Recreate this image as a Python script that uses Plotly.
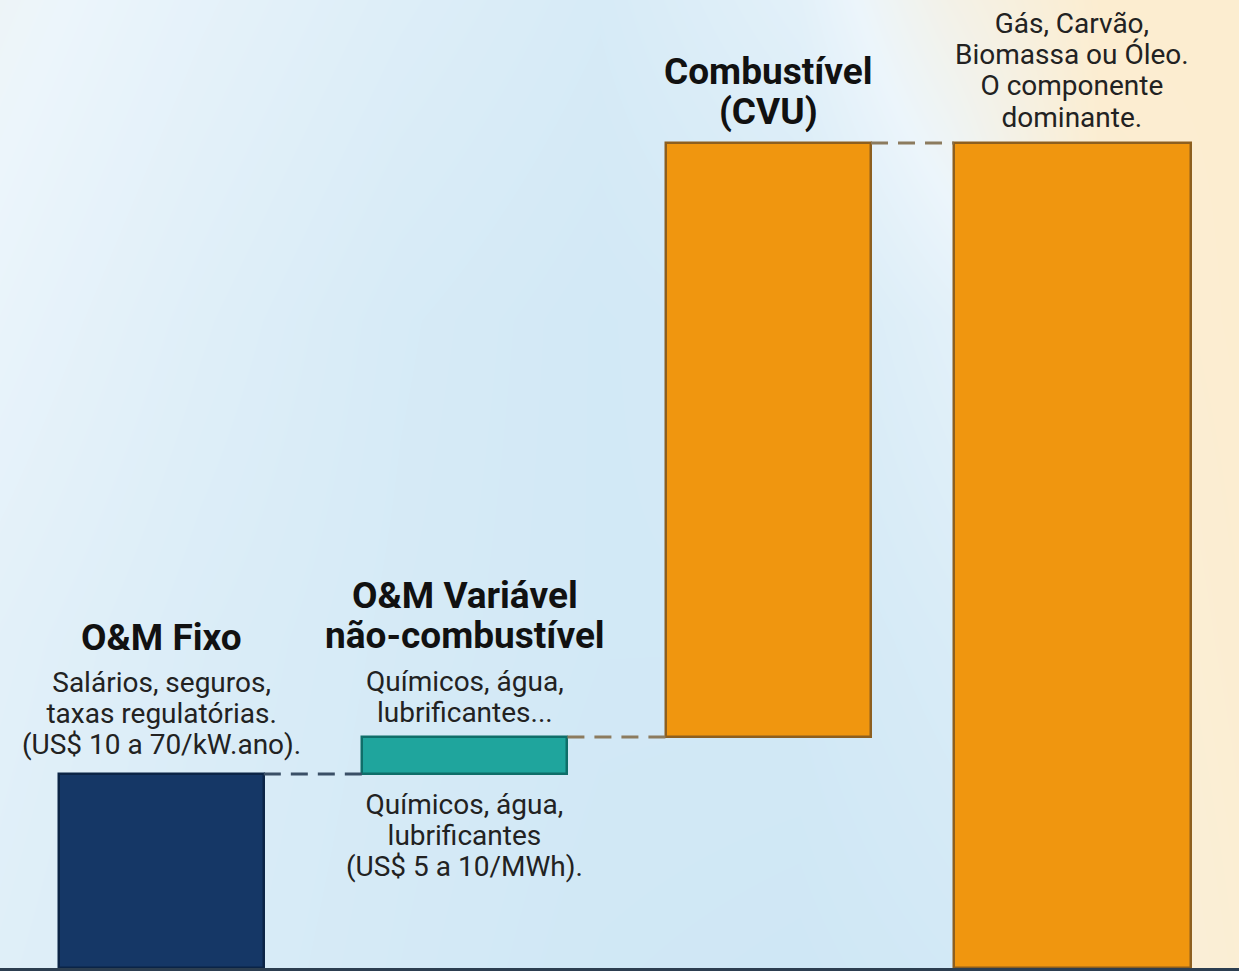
import plotly.graph_objects as go

# ---------------- data ----------------
categories = ["O&M Fixo", "O&M Variável não-combustível", "Combustível (CVU)", "Total"]
values = [23.5, 4.5, 72.0]          # relative contributions (share of total)
measures = ["relative", "relative", "relative", "total"]
titles = [["O&M Fixo"], ["O&M Variável", "não-combustível"], ["Combustível", "(CVU)"], []]
notes_above = [
    ["Salários, seguros,", "taxas regulatórias.", "(US$ 10 a 70/kW.ano)."],
    ["Químicos, água,", "lubrificantes..."],
    [],
    ["Gás, Carvão,", "Biomassa ou Óleo.", "O componente", "dominante."],
]
note_below_var = ["Químicos, água,", "lubrificantes", "(US$ 5 a 10/MWh)."]

# ---------------- derived bars ----------------
bases, heights = [], []
running = 0.0
for i, m in enumerate(measures):
    if m == "relative":
        bases.append(running)
        heights.append(values[i])
        running += values[i]
    else:
        bases.append(0.0)
        heights.append(running)
tops = [b + h for b, h in zip(bases, heights)]
xs = list(range(len(categories)))

# ---------------- styling ----------------
fills = ["#153766", "#1fa59d", "#f0960f", "#f0960f"]
edges = ["#0b2446", "#0f6e69", "#8d5f1f", "#8d5f1f"]
widths = [0.675, 0.675, 0.675, 0.781]
conn_colors = ["#3a4f66", "#8c7b5e", "#8c7b5e"]
FONT = "Roboto"
TITLE_GLYPH, TITLE_LINE = 37, 31     # glyph size / size that sets line spacing
NOTE_GLYPH, NOTE_LINE = 28, 24

# vertical offsets (px) of the centre of each text block from the bar top
title_offsets = [137, 121, 51, 0]
note_offsets = [61, 40, 0, 72]
below_offset = -61

XR = [-0.5315, 3.5496]
YR = [0, 117.33]


def block(lines, glyph, bold=False):
    out = []
    for ln in lines:
        t = "<b>" + ln + "</b>" if bold else ln
        out.append('<span style="font-size:%dpx">%s</span>' % (glyph, t))
    return "<br>".join(out)


fig = go.Figure()

# background gradient
bg_cols_px = [0, 200, 400, 600, 800, 950, 1100, 1239]
bg_rows_px = [968, 640, 320, 0]
bg_x = [XR[0] + (XR[1] - XR[0]) * p / 1239 for p in bg_cols_px]
bg_y = [YR[1] * (968 - p) / 968 for p in bg_rows_px]
bg_z = [
    [0.25, 0.15, 0.08, 0.02, 0.00, 0.05, 0.85, 0.95],
    [0.30, 0.18, 0.10, 0.05, 0.05, 0.15, 0.90, 0.98],
    [0.40, 0.25, 0.12, 0.05, 0.10, 0.30, 0.95, 1.00],
    [0.50, 0.35, 0.22, 0.12, 0.30, 0.70, 1.00, 1.00],
]
fig.add_trace(go.Heatmap(
    x=bg_x, y=bg_y, z=bg_z, zsmooth="best", showscale=False, hoverinfo="skip",
    colorscale=[[0, "#cfe7f5"], [0.45, "#ecf5fb"], [1, "#fcedd0"]], zmin=0, zmax=1,
))

fig.add_trace(go.Bar(
    x=xs, y=heights, base=bases, width=widths,
    marker=dict(color=fills, line=dict(color=edges, width=2.5)),
    hovertext=categories, hoverinfo="text", showlegend=False,
))

# connectors
for i in range(len(xs) - 1):
    fig.add_shape(
        type="line", xref="x", yref="y",
        x0=xs[i] + widths[i] / 2, x1=xs[i + 1] - widths[i + 1] / 2,
        y0=tops[i], y1=tops[i],
        line=dict(color=conn_colors[i], width=3, dash="17px,10px"),
    )

# titles & notes
for i in xs:
    if titles[i]:
        fig.add_annotation(x=xs[i], y=tops[i], text=block(titles[i], TITLE_GLYPH, True),
                           showarrow=False, yanchor="middle", yshift=title_offsets[i],
                           font=dict(family=FONT, size=TITLE_LINE, color="#111111"))
    if notes_above[i]:
        fig.add_annotation(x=xs[i], y=tops[i], text=block(notes_above[i], NOTE_GLYPH),
                           showarrow=False, yanchor="middle", yshift=note_offsets[i],
                           font=dict(family=FONT, size=NOTE_LINE, color="#222222"))
fig.add_annotation(x=xs[1], y=bases[1], text=block(note_below_var, NOTE_GLYPH),
                   showarrow=False, yanchor="middle", yshift=below_offset,
                   font=dict(family=FONT, size=NOTE_LINE, color="#222222"))

fig.update_layout(
    width=1239, height=971,
    margin=dict(l=0, r=0, t=0, b=3),
    paper_bgcolor="#2c3e50",
    plot_bgcolor="#dcedf7",
    showlegend=False,
    bargap=0,
    xaxis=dict(range=XR, showgrid=False, zeroline=False, showticklabels=False,
               ticks="", showline=True, linecolor="#2c3e50", linewidth=3, fixedrange=True),
    yaxis=dict(range=YR, showgrid=False, zeroline=False, showticklabels=False,
               ticks="", showline=False, fixedrange=True),
)

fig.write_html("out.html")
